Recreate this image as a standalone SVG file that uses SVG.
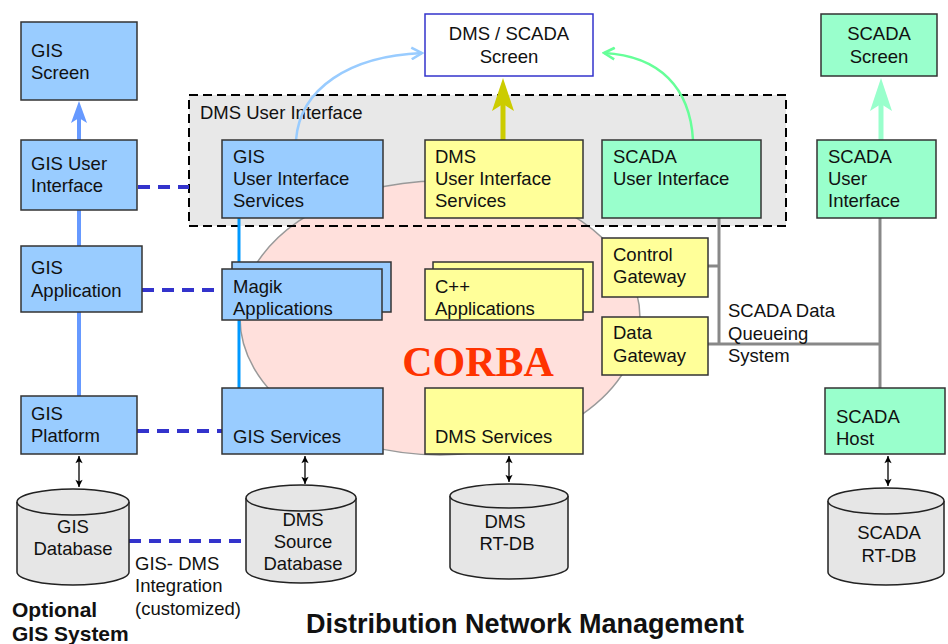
<svg xmlns="http://www.w3.org/2000/svg" width="948" height="644" viewBox="0 0 948 644">
  <style>
    text { font-family: "Liberation Sans", Arial, sans-serif; font-size: 18.5px; fill: #111; }
    .box { stroke: #333; stroke-width: 1.5; }
    .gis { fill: #99ccff; }
    .dms { fill: #ffff99; }
    .scada { fill: #99ffcc; }
    .db { fill: #e6e6e6; stroke: #222; stroke-width: 1.5; }
    .mid { text-anchor: middle; }
    .link { stroke: #3333cc; stroke-width: 4; stroke-dasharray: 12 8; fill: none; }
    .gray { stroke: #888; stroke-width: 3; fill: none; }
    .dbl { stroke: #000; stroke-width: 1.3; fill: none; marker-start: url(#tip); marker-end: url(#tip); }
    .title { font-weight: bold; }
  </style>
  <defs>
    <marker id="tip" viewBox="0 0 10 10" refX="9" refY="5" markerWidth="9" markerHeight="9" markerUnits="userSpaceOnUse" orient="auto-start-reverse">
      <path d="M1 1 L9 5 L1 9 L3 5 Z" fill="#000"/>
    </marker>
    <marker id="tipBlue" viewBox="0 0 12 12" refX="10" refY="6" markerWidth="14" markerHeight="14" markerUnits="userSpaceOnUse" orient="auto">
      <path d="M1 1 L10 6 L1 11" fill="none" stroke="#99ccff" stroke-width="2.2"/>
    </marker>
    <marker id="tipGreen" viewBox="0 0 12 12" refX="10" refY="6" markerWidth="14" markerHeight="14" markerUnits="userSpaceOnUse" orient="auto">
      <path d="M1 1 L10 6 L1 11" fill="none" stroke="#66ff99" stroke-width="2.2"/>
    </marker>
  </defs>

  <rect width="948" height="644" fill="#fff"/>

  <!-- DMS user interface frame (fill) -->
  <rect x="189" y="95" width="597" height="131" fill="#e8e8e8"/>

  <!-- CORBA bus -->
  <g id="corba">
    <ellipse cx="440" cy="318" rx="200" ry="137" fill="#ffe0dc" stroke="#999" stroke-width="1.5"/>
    <text x="478" y="376" class="mid" style="font-family:'Liberation Serif','Times New Roman',serif;font-weight:bold;font-size:42px;fill:#ff3300">CORBA</text>
  </g>

  <!-- DMS user interface frame (border) -->
  <g id="dms-ui-frame">
    <rect x="189" y="95" width="597" height="131" fill="none" stroke="#000" stroke-width="2" stroke-dasharray="9 5"/>
    <text x="200" y="119">DMS User Interface</text>
  </g>

  <!-- connectors -->
  <g id="connectors">
    <!-- GIS stack -->
    <line x1="79" y1="210" x2="79" y2="246" stroke="#6699ff" stroke-width="4"/>
    <line x1="79" y1="312" x2="79" y2="396" stroke="#6699ff" stroke-width="4"/>
    <line x1="79" y1="140" x2="79" y2="118" stroke="#6699ff" stroke-width="4"/>
    <path d="M79 101 L87 123 L79 118 L71 123 Z" fill="#6699ff"/>
    <!-- GIS services column -->
    <line x1="239" y1="218" x2="239" y2="262" stroke="#0099ff" stroke-width="3"/>
    <line x1="239" y1="320" x2="239" y2="388" stroke="#0099ff" stroke-width="3"/>
    <!-- dashed integration links -->
    <line class="link" x1="138" y1="187" x2="189" y2="187"/>
    <line class="link" x1="142" y1="290" x2="222" y2="290"/>
    <line class="link" x1="137" y1="431" x2="222" y2="431"/>
    <line class="link" x1="129" y1="541" x2="246" y2="541"/>
    <!-- screen arrows -->
    <line x1="503" y1="140" x2="503" y2="104" stroke="#cccc00" stroke-width="5"/>
    <path d="M503 78 L514 111 L503 104 L492 111 Z" fill="#cccc00"/>
    <line x1="881" y1="140" x2="881" y2="104" stroke="#99ffcc" stroke-width="5"/>
    <path d="M881 78 L892 111 L881 104 L870 111 Z" fill="#99ffcc"/>
    <path d="M296 140 C300 88 350 56 422 53" fill="none" stroke="#99ccff" stroke-width="2.5" marker-end="url(#tipBlue)"/>
    <path d="M693 140 C690 88 660 56 604 53" fill="none" stroke="#66ff99" stroke-width="2.5" marker-end="url(#tipGreen)"/>
    <!-- SCADA data queueing -->
    <path class="gray" d="M719 218 V344"/>
    <path class="gray" d="M708 266 H719"/>
    <path class="gray" d="M708 344 H880"/>
    <path class="gray" d="M880 218 V388"/>
    <!-- database access -->
    <line class="dbl" x1="79" y1="456" x2="79" y2="487"/>
    <line class="dbl" x1="305" y1="456" x2="305" y2="484"/>
    <line class="dbl" x1="509" y1="456" x2="509" y2="482"/>
    <line class="dbl" x1="888" y1="456" x2="888" y2="486"/>
  </g>

  <!-- GIS side -->
  <g id="gis-screen">
    <rect class="box gis" x="21" y="22" width="116" height="78"/>
    <text x="31" y="57">GIS</text><text x="31" y="79">Screen</text>
  </g>
  <g id="gis-user-interface">
    <rect class="box gis" x="21" y="140" width="116" height="70"/>
    <text x="31" y="170">GIS User</text><text x="31" y="192">Interface</text>
  </g>
  <g id="gis-application">
    <rect class="box gis" x="21" y="246" width="121" height="66"/>
    <text x="31" y="274">GIS</text><text x="31" y="297">Application</text>
  </g>
  <g id="gis-platform">
    <rect class="box gis" x="21" y="396" width="116" height="58"/>
    <text x="31" y="420">GIS</text><text x="31" y="442">Platform</text>
  </g>

  <!-- DMS user interface services -->
  <g id="gis-ui-services">
    <rect class="box gis" x="222" y="140" width="161" height="78"/>
    <text x="233" y="163">GIS</text><text x="233" y="185">User Interface</text><text x="233" y="207">Services</text>
  </g>
  <g id="dms-ui-services">
    <rect class="box dms" x="425" y="140" width="158" height="78"/>
    <text x="435" y="163">DMS</text><text x="435" y="185">User Interface</text><text x="435" y="207">Services</text>
  </g>
  <g id="scada-ui">
    <rect class="box scada" x="602" y="140" width="159" height="78"/>
    <text x="613" y="163">SCADA</text><text x="613" y="185">User Interface</text>
  </g>

  <!-- applications -->
  <g id="magik-applications">
    <rect class="box gis" x="232" y="262" width="159" height="50"/>
    <rect class="box gis" x="222" y="269" width="160" height="51"/>
    <text x="233" y="293">Magik</text><text x="233" y="315">Applications</text>
  </g>
  <g id="cpp-applications">
    <rect class="box dms" x="433" y="262" width="160" height="50"/>
    <rect class="box dms" x="425" y="269" width="158" height="51"/>
    <text x="435" y="293">C++</text><text x="435" y="315">Applications</text>
  </g>
  <g id="control-gateway">
    <rect class="box dms" x="602" y="238" width="106" height="59"/>
    <text x="613" y="261">Control</text><text x="613" y="283">Gateway</text>
  </g>
  <g id="data-gateway">
    <rect class="box dms" x="602" y="317" width="106" height="58"/>
    <text x="613" y="339">Data</text><text x="613" y="362">Gateway</text>
  </g>
  <g id="queueing-label">
    <text x="728" y="317">SCADA Data</text><text x="728" y="340">Queueing</text><text x="728" y="362">System</text>
  </g>

  <!-- services -->
  <g id="gis-services">
    <rect class="box gis" x="222" y="388" width="161" height="66"/>
    <text x="233" y="443">GIS Services</text>
  </g>
  <g id="dms-services">
    <rect class="box dms" x="425" y="388" width="158" height="66"/>
    <text x="435" y="443">DMS Services</text>
  </g>

  <!-- screens -->
  <g id="dms-scada-screen">
    <rect x="425" y="14" width="168" height="62" fill="#fff" stroke="#3333cc" stroke-width="1.5"/>
    <text x="509" y="40" class="mid">DMS / SCADA</text><text x="509" y="63" class="mid">Screen</text>
  </g>
  <g id="scada-screen">
    <rect class="box scada" x="821" y="14" width="116" height="62"/>
    <text x="879" y="40" class="mid">SCADA</text><text x="879" y="63" class="mid">Screen</text>
  </g>
  <g id="scada-user-interface">
    <rect class="box scada" x="817" y="140" width="119" height="78"/>
    <text x="828" y="163">SCADA</text><text x="828" y="185">User</text><text x="828" y="207">Interface</text>
  </g>
  <g id="scada-host">
    <rect class="box scada" x="825" y="388" width="120" height="66"/>
    <text x="836" y="423">SCADA</text><text x="836" y="445">Host</text>
  </g>

  <!-- databases -->
  <g id="gis-database">
    <path class="db" d="M17 502 V572 A56 13 0 0 0 129 572 V502 A56 13 0 0 0 17 502 Z"/>
    <path class="db" d="M17 502 A56 13 0 0 0 129 502" fill="none"/>
    <text x="73" y="533" class="mid">GIS</text><text x="73" y="555" class="mid">Database</text>
  </g>
  <g id="dms-source-database">
    <path class="db" d="M246 498 V570 A55 13 0 0 0 356 570 V498 A55 13 0 0 0 246 498 Z"/>
    <path class="db" d="M246 498 A55 13 0 0 0 356 498" fill="none"/>
    <text x="303" y="526" class="mid">DMS</text><text x="303" y="548" class="mid">Source</text><text x="303" y="570" class="mid">Database</text>
  </g>
  <g id="dms-rt-db">
    <path class="db" d="M450 496 V567 A59 12 0 0 0 568 567 V496 A59 12 0 0 0 450 496 Z"/>
    <path class="db" d="M450 496 A59 12 0 0 0 568 496" fill="none"/>
    <text x="505" y="528" class="mid">DMS</text><text x="507" y="550" class="mid">RT-DB</text>
  </g>
  <g id="scada-rt-db">
    <path class="db" d="M828 501 V572 A58 13 0 0 0 944 572 V501 A58 13 0 0 0 828 501 Z"/>
    <path class="db" d="M828 501 A58 13 0 0 0 944 501" fill="none"/>
    <text x="889" y="539" class="mid">SCADA</text><text x="889" y="562" class="mid">RT-DB</text>
  </g>

  <!-- captions -->
  <g id="captions">
    <text x="135" y="570">GIS- DMS</text>
    <text x="135" y="592">Integration</text>
    <text x="135" y="615">(customized)</text>
    <text x="12" y="617" class="title" style="font-size:21px">Optional</text>
    <text x="12" y="641" class="title" style="font-size:21px">GIS System</text>
    <text x="306" y="633" class="title" style="font-size:27px">Distribution Network Management</text>
  </g>
</svg>
